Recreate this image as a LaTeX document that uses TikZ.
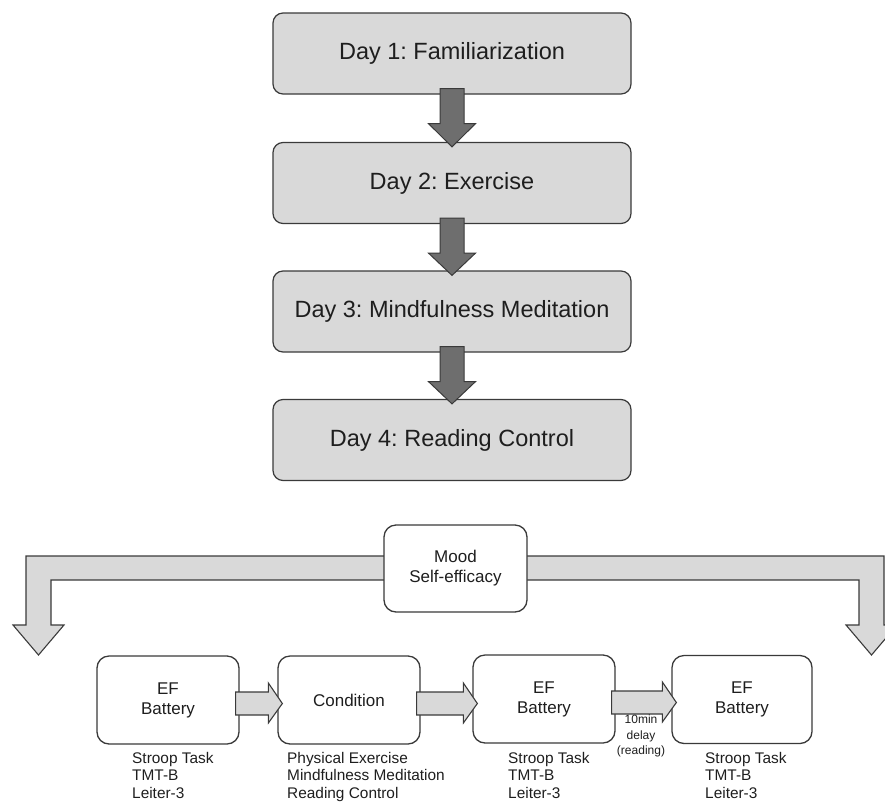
\documentclass[tikz,border=0pt]{standalone}
\usepackage{fontspec}
\setmainfont{Liberation Sans}
\usetikzlibrary{calc}
\definecolor{boxgray}{HTML}{D9D9D9}
\definecolor{arrowdark}{HTML}{6E6E6E}
\definecolor{edgegray}{HTML}{3A3A3A}
\definecolor{txt}{HTML}{1E1E1E}
\frenchspacing
\begin{document}
\begin{tikzpicture}[x=1pt,y=-1pt,
  daybox/.style={draw=edgegray, fill=boxgray, line width=1.2pt, rounded corners=10pt,
    minimum width=358pt, minimum height=81pt, inner sep=0pt, text=txt,
    font=\fontsize{23.5}{28}\selectfont},
  darr/.style={draw=edgegray, fill=arrowdark, line width=1pt, line join=miter},
  lightarr/.style={draw=edgegray, fill=boxgray, line width=1.1pt, line join=miter},
  efbox/.style={draw=edgegray, fill=white, line width=1.3pt, rounded corners=12pt,
    minimum width=142pt, minimum height=88pt, inner sep=0pt, align=center, text=txt,
    font=\fontsize{17}{20}\selectfont},
  listtxt/.style={anchor=north west, inner sep=0pt, align=left, text=txt,
    font=\fontsize{15.4}{17.5}\selectfont},
  smalltxt/.style={inner sep=0pt, align=center, text=txt,
    font=\fontsize{12}{15.5}\selectfont}
]
\useasboundingbox (0,0) rectangle (885,806);
\clip (0,0) rectangle (885,806);

% Day boxes
\node[daybox] (d1) at (452,53.5) {Day 1: Familiarization};
\node[daybox] (d2) at (452,183) {Day 2: Exercise};
\node[daybox] (d3) at (452,311.5) {Day 3: Mindfulness Meditation};
\node[daybox] (d4) at (452,440) {Day 4: Reading Control};

% dark down arrows
\foreach \a/\b in {d1/d2, d2/d3, d3/d4}{
  \draw[darr, xshift=3pt] let \p1=(\a.south), \p2=(\b.north) in
    (\x1-12pt,\y1+6pt) -- (\x1+12pt,\y1+6pt) -- (\x1+12pt,\y1-29pt) --
    (\x1+23.5pt,\y1-29pt) -- (\x1,\y2-5pt) -- (\x1-23.5pt,\y1-29pt) --
    (\x1-12pt,\y1-29pt) -- cycle;
}

% big split arrow
\coordinate (ltip) at (38.5,655);
\coordinate (rtip) at (871.5,655);
\draw[lightarr] (455,556) -- (26,556) -- (26,625) -- (13,625) -- (ltip) --
  (64,625) -- (51,625) -- (51,580) -- (859,580) -- (859,625) -- (846,625) --
  (rtip) -- (897,625) -- (884,625) -- (884,556) -- cycle;

\node[efbox, minimum width=143pt, minimum height=87pt] (mood) at (455.5,568.5) {Mood\\Self-efficacy};

% bottom boxes
\node[efbox] (e1) at (168,700) {EF\\Battery};
\node[efbox] (cond) at (349,700) {Condition};
\node[efbox] (e2) at (544,699) {EF\\Battery};
\node[efbox, minimum width=140pt] (e3) at (742,699.5) {EF\\Battery};

% light right arrows
\foreach \a/\b in {e1/cond, cond/e2, e2/e3}{
  \draw[lightarr] let \p1=(\a.east), \p2=(\b.west) in
    (\x1-4pt,\y1+8pt) -- (\x2-9pt,\y1+8pt) -- (\x2-9pt,\y1+17pt) --
    (\x2+5pt,\y1-3.5pt) -- (\x2-9pt,\y1-23pt) -- (\x2-9pt,\y1-15pt) --
    (\x1-4pt,\y1-15pt) -- cycle;
}

% lists
\node[listtxt] (l1) at (132,752) {Stroop Task\\TMT-B\\Leiter-3};
\node[listtxt] (l2) at (287,752) {Physical Exercise\\Mindfulness Meditation\\Reading Control};
\node[listtxt] (l3) at (508,752) {Stroop Task\\TMT-B\\Leiter-3};
\node[listtxt] (l4) at (705,752) {Stroop Task\\TMT-B\\Leiter-3};

\node[smalltxt] (delay) at (641,736) {10min\\delay\\(reading)};
\end{tikzpicture}
\end{document}
